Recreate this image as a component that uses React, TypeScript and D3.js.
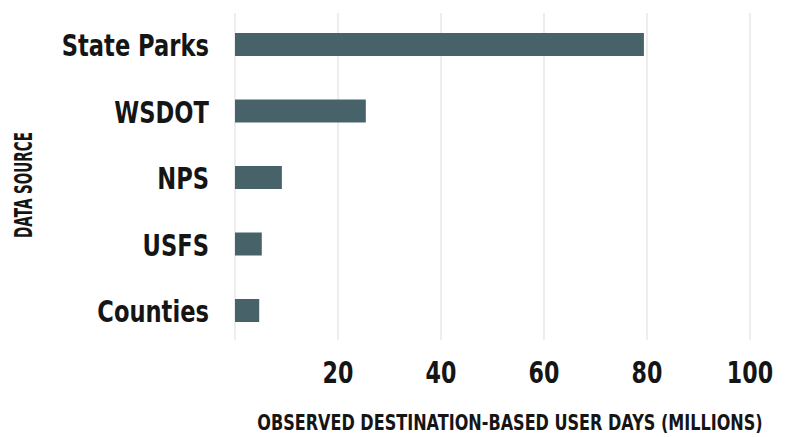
import { useRef, useEffect } from "react";
import { select, scaleLinear, scalePoint } from "d3";

const categories = ["State Parks", "WSDOT", "NPS", "USFS", "Counties"];
const userDays = [79.4, 25.4, 9.1, 5.2, 4.7];
const xTicks = [0, 20, 40, 60, 80, 100];
const xTickLabels = ["", "20", "40", "60", "80", "100"];

const FONT = "'DejaVu Sans', sans-serif";

export default function App() {
  const svgRef = useRef<SVGSVGElement>(null);

  useEffect(() => {
    const svg = select(svgRef.current);
    svg.selectAll("*").remove();

    const xScale = scaleLinear().domain([0, 100]).range([235, 750]);
    const yScale = scalePoint().domain(categories).range([44.5, 310.5]);
    const barH = 23;

    // grid lines
    svg
      .append("g")
      .selectAll("line")
      .data(xTicks)
      .join("line")
      .attr("x1", (d) => xScale(d))
      .attr("x2", (d) => xScale(d))
      .attr("y1", 13)
      .attr("y2", 340)
      .attr("stroke", "#e2e2e2")
      .attr("stroke-width", 1.2);

    // bars
    svg
      .append("g")
      .selectAll("rect")
      .data(categories)
      .join("rect")
      .attr("x", xScale(0))
      .attr("y", (d) => yScale(d)! - barH / 2)
      .attr("width", (d, i) => xScale(userDays[i]) - xScale(0))
      .attr("height", barH)
      .attr("fill", "#48626a");

    // category labels (squeezed to look condensed)
    svg
      .append("g")
      .selectAll("text")
      .data(categories)
      .join("text")
      .attr("transform", (d) => `translate(209,${yScale(d)! + 11.5}) scale(0.73,1)`)
      .attr("text-anchor", "end")
      .attr("font-size", 31)
      .attr("font-weight", "bold")
      .attr("fill", "#151515")
      .text((d) => d);

    // tick labels
    svg
      .append("g")
      .selectAll("text")
      .data(xTicks)
      .join("text")
      .attr("transform", (d) => `translate(${xScale(d)},383) scale(0.74,1)`)
      .attr("text-anchor", "middle")
      .attr("font-size", 30)
      .attr("font-weight", "bold")
      .attr("fill", "#151515")
      .text((d, i) => xTickLabels[i]);

    // axis titles
    svg
      .append("text")
      .attr("transform", "translate(510,430) scale(0.73,1)")
      .attr("text-anchor", "middle")
      .attr("font-size", 22)
      .attr("font-weight", "bold")
      .attr("fill", "#151515")
      .text("OBSERVED DESTINATION-BASED USER DAYS (MILLIONS)");

    svg
      .append("text")
      .attr("transform", "translate(32,185) rotate(-90)")
      .attr("text-anchor", "middle")
      .attr("font-size", 24)
      .attr("font-weight", "bold")
      .attr("fill", "#151515")
      .attr("textLength", 106)
      .attr("lengthAdjust", "spacingAndGlyphs")
      .text("DATA SOURCE");
  }, []);

  return (
    <svg
      ref={svgRef}
      width={787}
      height={437}
      style={{ position: "absolute", left: 0, top: 0, background: "#fff", fontFamily: FONT }}
    />
  );
}
